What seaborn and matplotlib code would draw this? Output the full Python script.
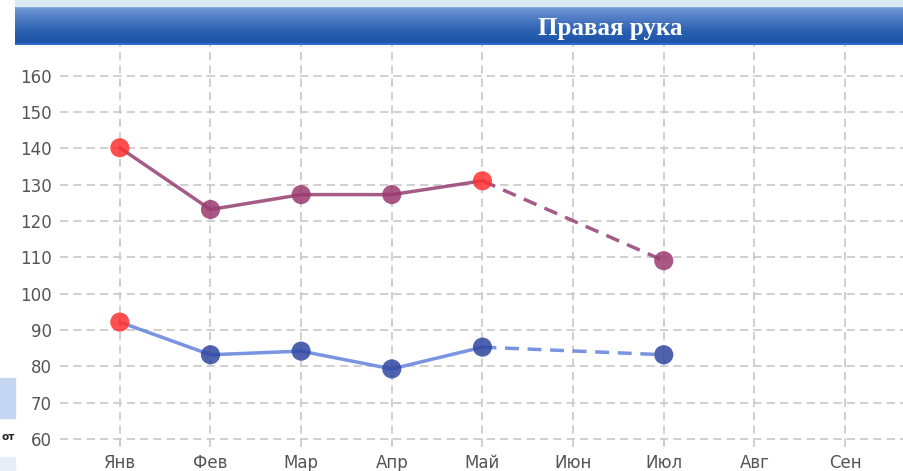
import numpy as np
import pandas as pd
import seaborn as sns
from matplotlib import pyplot as plt
from matplotlib.patches import Rectangle

# Data
months = ["Янв", "Фев", "Мар", "Апр", "Май", "Июн", "Июл", "Авг", "Сен"]
upper_months = ["Янв", "Фев", "Мар", "Апр", "Май"]
upper_values = [140.2, 123.2, 127.3, 127.3, 131.1]
lower_values = [92.2, 83.2, 84.2, 79.3, 85.3]
forecast_months = ["Май", "Июл"]
upper_forecast = [131.1, 109.1]
lower_forecast = [85.3, 83.2]
upper_red = ["Янв", "Май"]
lower_red = ["Янв"]
title = "Правая рука"

W, H = 904, 471
sns.set_theme(style="white")
plt.rcParams["font.family"] = ["DejaVu Sans"]

fig = plt.figure(figsize=(W / 100, H / 100), dpi=100)
fig.patch.set_facecolor("white")

# page fragments left of the chart panel
fig.patches.append(Rectangle((0, 1 - 418 / H), 15 / W, 40 / H, transform=fig.transFigure,
                             color="#c5d7f2", zorder=0))
fig.patches.append(Rectangle((0, 1 - 471 / H), 15 / W, 14 / H, transform=fig.transFigure,
                             color="#e8eef8", zorder=0))
fig.text(1 / W, 1 - 437 / H, "от", fontsize=7.5, fontweight="bold", color="#222222",
         ha="left", va="center")

# header bar with vertical gradient
hax = fig.add_axes([15 / W, 1 - 45 / H, 1 - 15 / W, 40 / H])
grad = np.linspace(0, 1, 100).reshape(-1, 1)
cmap = sns.blend_palette(["#7aa0d8", "#4f7cc4", "#2a5fb0", "#1a52a8"], as_cmap=True)
hax.imshow(grad, aspect="auto", cmap=cmap, extent=[0, 1, 0, 1], origin="upper")
hax.axhline(0.97, color="#a9c3ea", lw=1.5)
hax.axhline(0.02, color="#2f6cc9", lw=1.5)
hax.set_xlim(0, 1)
hax.set_ylim(0, 1)
hax.axis("off")
hax.text((610 - 15) / (W - 15), 0.42, title, color="white", fontsize=18, fontweight="bold",
         family=["Liberation Serif", "DejaVu Serif"], ha="center", va="center")
fig.patches.append(Rectangle((15 / W, 1 - 6 / H), 1, 6 / H, transform=fig.transFigure,
                             color="#dbe9f5", zorder=0))

# main plot
ax = fig.add_axes([60 / W, 1 - 447 / H, 1 - 60 / W, (447 - 45) / H])
x_all = np.arange(len(months))
pos = {m: i for i, m in enumerate(months)}

df_up = pd.DataFrame({"x": [pos[m] for m in upper_months], "y": upper_values})
df_lo = pd.DataFrame({"x": [pos[m] for m in upper_months], "y": lower_values})
df_upf = pd.DataFrame({"x": [pos[m] for m in forecast_months], "y": upper_forecast})
df_lof = pd.DataFrame({"x": [pos[m] for m in forecast_months], "y": lower_forecast})

up_line = "#9a4a7a"
up_mark = "#9b3a70"
lo_line = "#6a88de"
lo_mark = "#2f47a0"
red = "#ff3030"

sns.lineplot(data=df_up, x="x", y="y", ax=ax, color=up_line, lw=2.5, alpha=0.9, zorder=3)
sns.lineplot(data=df_upf, x="x", y="y", ax=ax, color=up_line, lw=2.5, alpha=0.9,
             zorder=3).lines[-1].set_dashes([4, 2.5])
sns.lineplot(data=df_lo, x="x", y="y", ax=ax, color=lo_line, lw=2.5, alpha=0.9, zorder=3)
sns.lineplot(data=df_lof, x="x", y="y", ax=ax, color=lo_line, lw=2.5, alpha=0.9,
             zorder=3).lines[-1].set_dashes([4, 2.5])

up_colors = [red if m in upper_red else up_mark for m in upper_months] + [up_mark]
lo_colors = [red if m in lower_red else lo_mark for m in upper_months] + [lo_mark]
up_x = [pos[m] for m in upper_months] + [pos[forecast_months[-1]]]
lo_x = up_x
ax.scatter(up_x, upper_values + [upper_forecast[-1]], s=190, c=up_colors, alpha=0.85,
           edgecolors="none", zorder=4)
ax.scatter(lo_x, lower_values + [lower_forecast[-1]], s=190, c=lo_colors, alpha=0.85,
           edgecolors="none", zorder=4)

ax.set_xlim(-0.66, 8.65)
ax.set_ylim(57.8, 168.5)
ax.set_xticks(x_all)
ax.set_xticklabels(months)
ax.set_yticks(np.arange(60, 161, 10))
ax.grid(True, color="#c8c8c8", linestyle=(0, (5, 3)), lw=1.2)
ax.set_axisbelow(True)
for s in ax.spines.values():
    s.set_visible(False)
ax.tick_params(axis="both", length=0, labelsize=12, labelcolor="#555555")
ax.tick_params(axis="x", pad=5)
ax.tick_params(axis="y", pad=6)
ax.set_xlabel("")
ax.set_ylabel("")
ax.patch.set_alpha(0)

fig.savefig("out.png", dpi=100)
